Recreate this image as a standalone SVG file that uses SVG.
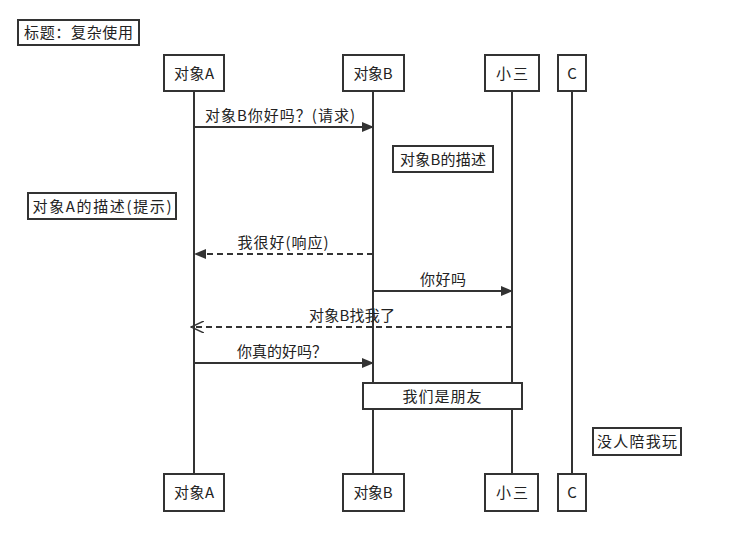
<svg xmlns="http://www.w3.org/2000/svg" width="734" height="537" viewBox="0 0 734 537">
<style>
text{font-family:"Noto Sans CJK SC","Noto Sans",sans-serif;font-size:15px;fill:#222}
.box{fill:#fff;stroke:#333;stroke-width:2}
.life{stroke:#333;stroke-width:2}
.msg{stroke:#333;stroke-width:2;fill:none}
.dash{stroke-dasharray:6,4}
.c{text-anchor:middle}
</style>
<defs>
<marker id="fill" markerWidth="12" markerHeight="10" refX="11" refY="5" orient="auto" markerUnits="userSpaceOnUse"><path d="M0,0 L12,5 L0,10 Z" fill="#333"/></marker>
<marker id="open" markerWidth="14" markerHeight="12" refX="13" refY="6" orient="auto" markerUnits="userSpaceOnUse"><path d="M0,0 L13,6 L0,12" fill="none" stroke="#333" stroke-width="1.5"/></marker>
</defs>
<rect width="734" height="537" fill="#fff"/>
<g id="title"><rect class="box" x="18" y="20" width="121" height="25"/><text x="24" y="38" textLength="109">标题：复杂使用</text></g>
<g id="lifelines">
<line class="life" x1="194" y1="91" x2="194" y2="474"/>
<line class="life" x1="373" y1="91" x2="373" y2="474"/>
<line class="life" x1="512" y1="91" x2="512" y2="474"/>
<line class="life" x1="572" y1="91" x2="572" y2="474"/>
</g>
<g id="A"><rect class="box" x="164" y="55" width="60" height="36"/><text class="c" x="194" y="79" textLength="40">对象A</text>
<rect class="box" x="164" y="474" width="60" height="37"/><text class="c" x="194" y="498" textLength="40">对象A</text></g>
<g id="B"><rect class="box" x="343" y="55" width="61" height="36"/><text class="c" x="373" y="79" textLength="39">对象B</text>
<rect class="box" x="343" y="474" width="61" height="37"/><text class="c" x="373" y="498" textLength="39">对象B</text></g>
<g id="X"><rect class="box" x="485" y="55" width="54" height="36"/><text class="c" x="512" y="79" textLength="32">小三</text>
<rect class="box" x="485" y="474" width="53" height="37"/><text class="c" x="512" y="498" textLength="32">小三</text></g>
<g id="C"><rect class="box" x="558" y="55" width="28" height="36"/><text class="c" x="572" y="79">C</text>
<rect class="box" x="558" y="474" width="28" height="37"/><text class="c" x="572" y="498">C</text></g>
<g id="connectors">
<line class="msg" x1="194" y1="127" x2="373" y2="127" marker-end="url(#fill)"/>
<text class="c" x="280" y="121" textLength="150">对象B你好吗？(请求)</text>
<line class="msg dash" x1="373" y1="254" x2="195" y2="254" marker-end="url(#fill)"/>
<text class="c" x="283" y="248" textLength="91">我很好(响应)</text>
<line class="msg" x1="373" y1="291" x2="512" y2="291" marker-end="url(#fill)"/>
<text class="c" x="443" y="285" textLength="46">你好吗</text>
<line class="msg dash" x1="512" y1="327" x2="191" y2="327" marker-end="url(#open)"/>
<text class="c" x="352" y="321" textLength="86">对象B找我了</text>
<line class="msg" x1="194" y1="363" x2="373" y2="363" marker-end="url(#fill)"/>
<text class="c" x="282" y="357" textLength="90">你真的好吗？</text>
</g>
<g id="noteB"><rect class="box" x="393" y="146" width="100" height="26"/><text class="c" x="443" y="165" textLength="86">对象B的描述</text></g>
<g id="noteA"><rect class="box" x="28" y="193" width="148" height="26"/><text class="c" x="102" y="212" textLength="139">对象A的描述(提示)</text></g>
<g id="noteBX"><rect class="box" x="363" y="383" width="159" height="26"/><text class="c" x="442" y="402" textLength="79">我们是朋友</text></g>
<g id="noteC"><rect class="box" x="593" y="428" width="88" height="27"/><text class="c" x="637" y="447" textLength="80">没人陪我玩</text></g>
</svg>
